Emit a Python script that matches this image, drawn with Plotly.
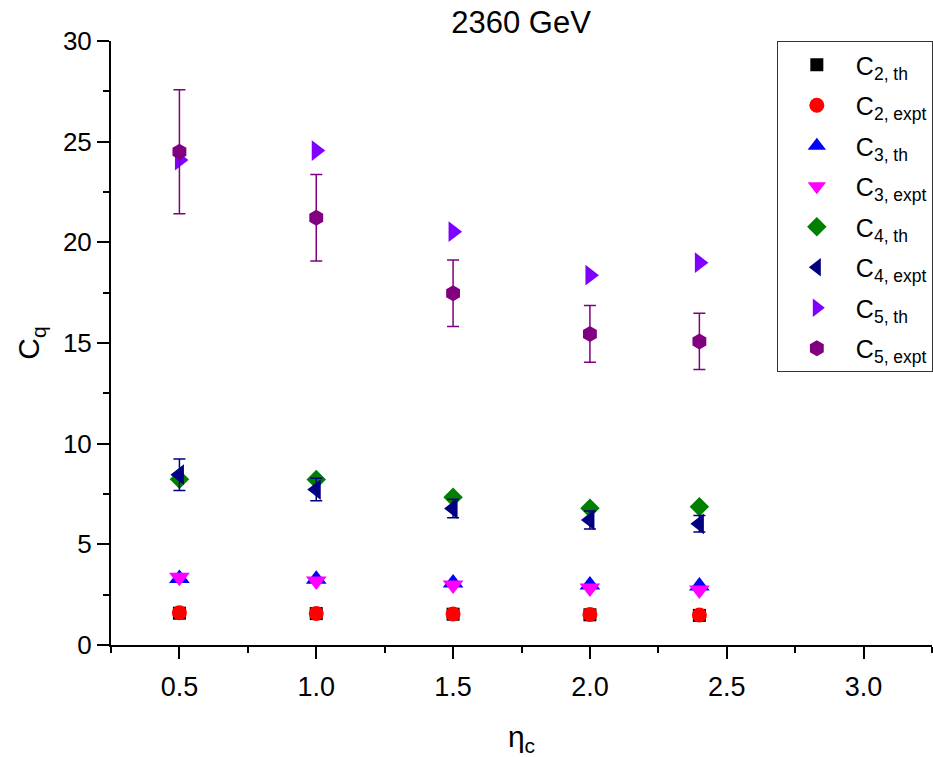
import plotly.graph_objects as go

# pseudorapidity window widths
eta_c = [0.5, 1.0, 1.5, 2.0, 2.4]

# normalized factorial-like moments C_q at 2360 GeV
c2_th = [1.58, 1.56, 1.53, 1.50, 1.47]
c2_expt = [1.60, 1.57, 1.54, 1.52, 1.49]
c3_th = [3.30, 3.27, 3.08, 2.98, 2.93]
c3_expt = [3.36, 3.18, 2.98, 2.83, 2.73]
c4_th = [8.23, 8.22, 7.34, 6.79, 6.87]
c4_expt = [8.46, 7.72, 6.78, 6.21, 6.02]
c4_expt_err = [0.78, 0.56, 0.46, 0.45, 0.41]
c5_th = [24.09, 24.56, 20.53, 18.37, 18.99]
c5_expt = [24.50, 21.22, 17.47, 15.45, 15.08]
c5_expt_err = [3.08, 2.15, 1.65, 1.41, 1.40]

FONT = "Liberation Sans, Arial, sans-serif"

series = [
    ("C<sub>2, th</sub>", c2_th, None, "square", "#000000", 13),
    ("C<sub>2, expt</sub>", c2_expt, None, "circle", "#FF0000", 15),
    ("C<sub>3, th</sub>", c3_th, None, "triangle-up", "#0000FF", 18),
    ("C<sub>3, expt</sub>", c3_expt, None, "triangle-down", "#FF00FF", 18),
    ("C<sub>4, th</sub>", c4_th, None, "diamond", "#008000", 15),
    ("C<sub>4, expt</sub>", c4_expt, c4_expt_err, "triangle-left", "#000080", 18),
    ("C<sub>5, th</sub>", c5_th, None, "triangle-right", "#8000FF", 18),
    ("C<sub>5, expt</sub>", c5_expt, c5_expt_err, "hexagon", "#800080", 16),
]

fig = go.Figure()
for i, (name, vals, err, sym, col, size) in enumerate(series):
    tr = dict(
        x=eta_c, y=vals, mode="markers", name=name, legendgroup=f"g{i}",
        marker=dict(symbol=sym, color=col, size=size, line=dict(width=0)),
    )
    if err is not None:
        tr["error_y"] = dict(type="data", array=err, visible=True,
                             color=col, thickness=1.5, width=6)
    fig.add_trace(go.Scatter(**tr))

axis_common = dict(
    showline=True, linecolor="black", linewidth=2,
    showgrid=False, zeroline=False,
    tickcolor="black", tickwidth=2,
)

fig.update_layout(
    width=933, height=757,
    margin=dict(l=111, r=1, t=41, b=112, autoexpand=False),
    paper_bgcolor="white", plot_bgcolor="white",
    font=dict(family=FONT, color="black"),
    title=dict(text="2360 GeV", x=0.5585, xanchor="center", y=0.971,
               yanchor="middle", font=dict(size=31, family=FONT)),
    xaxis=dict(
        range=[0.25, 3.25], dtick=0.5, tick0=0.5, tickformat=".1f",
        ticks="outside", ticklen=12, ticklabelstandoff=5,
        minor=dict(dtick=0.25, tick0=0.25, ticks="outside", ticklen=6,
                   tickcolor="black", tickwidth=2),
        tickfont=dict(size=27, family=FONT),
        title=dict(text="η<sub>c</sub>", font=dict(size=30, family=FONT),
                   standoff=28),
        **axis_common,
    ),
    yaxis=dict(
        range=[0, 30], dtick=5, tick0=0,
        ticks="outside", ticklen=12,
        minor=dict(dtick=2.5, ticks="outside", ticklen=6,
                   tickcolor="black", tickwidth=2),
        tickfont=dict(size=26, family=FONT),
        title=dict(text="C<sub>q</sub>", font=dict(size=30, family=FONT),
                   standoff=14),
        **axis_common,
    ),
    xaxis2=dict(
        overlaying="x", side="top", anchor="y", matches="x",
        range=[0.25, 3.25], dtick=0.5, tick0=0.5,
        ticks="inside", ticklen=12, showticklabels=False,
        minor=dict(dtick=0.25, tick0=0.25, ticks="inside", ticklen=6,
                   tickcolor="black", tickwidth=2),
        **axis_common,
    ),
    yaxis2=dict(
        overlaying="y", side="right", anchor="x", matches="y",
        range=[0, 30], dtick=5, tick0=0,
        ticks="inside", ticklen=12, showticklabels=False,
        minor=dict(dtick=2.5, ticks="inside", ticklen=6,
                   tickcolor="black", tickwidth=2),
        **axis_common,
    ),
    legend=dict(
        x=0.811, xanchor="left", y=1, yanchor="top",
        bgcolor="white", bordercolor="#333333", borderwidth=1,
        font=dict(size=25, family=FONT),
        itemwidth=68, tracegroupgap=5,
    ),
    showlegend=True,
)

fig.write_html("out.html")
